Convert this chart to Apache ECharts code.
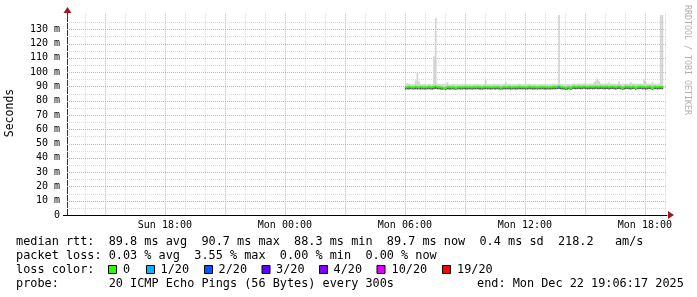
<!DOCTYPE html>
<html><head><meta charset="utf-8">
<script src="https://cdn.jsdelivr.net/npm/echarts@6/dist/echarts.min.js"></script>
<style>html,body{margin:0;padding:0;background:#fff}#c{width:697px;height:297px}</style>
</head><body><div id="c"></div>
<script>
// ---- time frame (hours since Sun Dec 21 2025 00:00) ----
const tStart = 13 + 6/60 + 17/3600;   // Sun 13:06:17
const tEnd = tStart + 30;             // Mon 19:06:17
const dayNames = ['Sun', 'Mon'];
const sampleStart = 30;               // Mon 06:00, first sample
const stepH = 5/60;                   // 300 s
const yMax = 141.2;

// ---- ticks / grid ----
const xLabelHours = [18, 24, 30, 36, 42];
const yLabels = [0,10,20,30,40,50,60,70,80,90,100,110,120,130];
const hGridMajor = [10,20,30,40,50,60,70,80,90,100,110,120,130];
const hGridMinor = [5,15,25,35,45,55,65,75,85,95,105,115,125,135];
const vGridMajor = [15,18,21,24,27,30,33,36,39,42];
const vGridMinor = [14,16,17,19,20,22,23,25,26,28,29,31,32,34,35,37,38,40,41,43];

// ---- data (ms) ----
const median = [
 89.6,89.5,89.7,89.6,89.4,89.5,89.8,89.6,89.5,89.7,
 89.6,89.4,89.5,89.6,89.7,89.5,89.6,89.8,90.1,89.7,
 89.6,89.5,89.3,88.8,88.9,89.7,89.6,89.4,89.5,89.6,
 88.7,89.5,89.6,89.4,89.5,89.6,89.7,89.5,89.6,89.5,
 89.4,89.6,89.5,89.7,89.6,89.5,89.3,89.6,89.7,89.5,
 89.6,89.5,89.4,89.6,89.5,89.7,89.6,88.9,89.4,89.6,
 89.5,89.6,89.7,89.5,89.4,89.6,89.5,89.6,89.8,89.6,
 89.5,89.6,89.4,89.5,89.7,89.6,89.5,89.6,89.5,89.4,
 89.6,89.5,89.7,89.6,89.5,89.6,89.4,89.5,89.6,89.7,
 89.6,89.8,89.9,89.7,89.6,89.5,89.0,89.4,89.6,88.6,
 89.8,89.9,89.7,89.8,89.9,89.7,89.8,90.0,89.8,89.7,
 89.8,89.9,89.7,89.8,90.0,89.8,89.7,89.9,89.8,89.7,
 89.8,89.9,89.6,89.8,89.9,89.7,89.5,89.8,89.9,89.7,
 88.8,89.6,89.9,89.8,89.7,89.5,89.8,89.9,88.7,89.8,
 89.7,89.9,89.6,89.8,89.5,89.7,89.9,89.8,88.6,89.7,
 89.8,89.6,89.7,89.8,89.7];
const low = [
 87.9,88.0,87.8,88.1,87.9,87.8,88.0,87.9,88.1,87.8,
 88.0,87.9,87.8,88.0,88.1,87.9,87.8,88.0,88.2,87.9,
 88.0,87.8,87.7,87.9,87.6,88.0,87.9,87.8,88.0,87.9,
 87.6,87.9,88.0,87.8,87.9,88.1,87.9,87.8,88.0,87.9,
 87.8,88.0,87.9,88.1,87.9,87.8,87.7,88.0,88.1,87.9,
 88.0,87.8,87.9,88.0,87.8,88.1,87.9,87.7,87.8,88.0,
 87.9,88.0,88.1,87.8,87.9,88.0,87.8,87.9,88.1,88.0,
 87.9,88.0,87.8,87.9,88.1,88.0,87.8,87.9,88.0,87.8,
 88.0,87.9,88.1,87.9,87.8,88.0,87.8,87.9,88.0,88.1,
 88.0,88.1,88.2,88.0,87.9,87.8,87.6,87.8,88.0,87.5,
 88.1,88.2,88.0,88.1,88.2,88.0,88.1,88.3,88.1,88.0,
 88.1,88.2,88.0,88.1,88.3,88.1,88.0,88.2,88.1,88.0,
 88.1,88.2,87.9,88.1,88.2,88.0,87.8,88.1,88.2,88.0,
 87.7,87.9,88.2,88.1,88.0,87.8,88.1,88.2,87.6,88.1,
 88.0,88.2,87.9,88.1,87.8,88.0,88.2,88.1,87.6,88.0,
 88.1,87.9,88.0,88.1,88.0];
const high = [
 91.6,92.4,91.8,91.5,91.7,91.6,94.0,100.0,93.5,91.8,
 91.5,91.7,91.6,91.4,91.8,91.6,91.7,111.0,138.0,92.0,
 91.7,91.5,91.6,91.8,91.4,93.0,91.6,91.5,91.7,91.6,
 91.5,91.7,91.6,91.4,91.8,91.5,91.6,91.7,91.5,91.6,
 91.4,91.7,91.6,91.8,91.5,91.6,91.4,91.7,95.0,91.6,
 91.7,91.5,91.6,91.8,91.5,91.7,91.6,91.5,91.4,91.7,
 93.0,91.6,91.8,91.5,91.6,91.7,91.5,91.6,91.8,91.7,
 91.5,91.6,91.4,91.7,91.8,91.6,91.5,91.7,91.6,91.5,
 91.7,91.6,91.8,91.5,91.6,91.7,91.5,91.6,91.7,91.8,
 91.7,91.9,140.0,91.8,91.7,91.6,91.4,91.6,91.7,91.5,
 91.9,92.0,91.8,91.9,92.1,91.8,91.9,92.1,91.9,91.8,
 91.9,92.0,91.8,93.0,94.0,95.6,94.0,92.0,91.9,91.8,
 91.9,92.0,93.0,91.9,92.0,91.8,91.7,91.9,93.5,91.8,
 91.9,91.7,92.0,91.9,91.8,93.0,91.9,92.0,91.7,91.9,
 91.8,92.0,91.7,94.8,93.0,91.8,92.0,91.9,93.0,91.8,
 91.9,91.7,92.0,140.0,140.0];
const loss = [
 0,0,0,0,0,0,0,0,0,0, 0,0,0,0,0,0,0,0,0,0, 0,0,0,0,0,0,0,0,0,0,
 0,0,0,0,0,0,0,0,0,0, 0,0,0,0,0,0,0,0,0,0, 0,0,0,0,0,0,0,0,0,0,
 0,0,0,0,0,0,0,0,0,0, 0,0,0,0,0,0,0,0,0,0, 0,0,0,0,0,0,0,0,0,0,
 0,0,1,0,0,0,0,0,0,0, 0,0,0,0,0,0,0,0,0,0, 0,0,0,0,0,0,0,0,0,0,
 0,0,0,0,0,0,0,0,0,0, 0,0,0,0,0,0,0,0,0,0, 0,0,0,0,0];
const lossKeys = [0, 1, 2, 3, 4, 10, 19];
const lossColorList = ['#26ff00', '#00b8ff', '#0059ff', '#5e00ff', '#7e00ff', '#dd00ff', '#ff0000'];

// ---- legend texts ----
const legendRtt = 'median rtt:  89.8 ms avg  90.7 ms max  88.3 ms min  89.7 ms now  0.4 ms sd  218.2   am/s';
const legendLoss = 'packet loss: 0.03 % avg  3.55 % max  0.00 % min  0.00 % now';
const legendColorTitle = 'loss color:';
const legendProbe = 'probe:       20 ICMP Echo Pings (56 Bytes) every 300s';
const legendEnd = 'end: Mon Dec 22 19:06:17 2025';

function lossColor(l) {
  let c = lossColorList[0];
  lossKeys.forEach((k, i) => { if (l >= k) c = lossColorList[i]; });
  return c;
}

const smokeData = median.map((m, i) => {
  const x0 = sampleStart + i * stepH;
  return [x0, x0 + stepH, low[i], m, high[i]];
});
const medData = median.map((m, i) => {
  const x0 = sampleStart + i * stepH;
  return [x0, x0 + stepH, m, i > 0 ? median[i - 1] : m, loss[i]];
});

const MONO = '"DejaVu Sans Mono", monospace';
const chart = echarts.init(document.getElementById('c'), null, {renderer: 'canvas'});

function vGridSeries(list, color) {
  return {
    type: 'custom', z: 1, silent: true, data: list.map(h => [h]),
    encode: {x: 0},
    renderItem(params, api) {
      const cs = params.coordSys;
      const x = Math.round(api.coord([api.value(0), 0])[0]) + 0.5;
      return {type: 'line', shape: {x1: x, y1: cs.y, x2: x, y2: cs.y + cs.height},
        style: {stroke: color, lineWidth: 1, lineDash: [1, 1]}};
    }
  };
}
function hGridSeries(list, color) {
  return {
    type: 'custom', z: 1, silent: true, data: list.map(v => [tStart, v]),
    encode: {x: 0, y: 1},
    renderItem(params, api) {
      const cs = params.coordSys;
      const y = Math.round(api.coord([api.value(0), api.value(1)])[1]) + 0.5;
      return {type: 'line', shape: {x1: cs.x, y1: y, x2: cs.x + cs.width, y2: y},
        style: {stroke: color, lineWidth: 1, lineDash: [1, 1]}};
    }
  };
}

const graphics = [];
graphics.push({type: 'polygon', shape: {points: [[63.5, 13], [71.5, 13], [67.5, 7]]}, style: {fill: '#a01818'}, z: 100});
graphics.push({type: 'polygon', shape: {points: [[668, 211], [668, 219], [674, 215]]}, style: {fill: '#a01818'}, z: 100});
graphics.push({type: 'line', shape: {x1: 63, y1: 215.5, x2: 67, y2: 215.5}, style: {stroke: '#000', lineWidth: 1}, z: 100});
graphics.push({type: 'text', x: 10, y: 113, rotation: Math.PI / 2,
  style: {text: 'Seconds', font: '11.5px ' + MONO, fill: '#000', align: 'center', verticalAlign: 'middle'}});
graphics.push({type: 'text', x: 687, y: 60, rotation: -Math.PI / 2,
  style: {text: 'RRDTOOL / TOBI OETIKER', font: '8.3px ' + MONO, fill: '#b0b0b0', align: 'center', verticalAlign: 'middle'}});
const FONT = '11.85px ' + MONO;
graphics.push({type: 'text', x: 16, y: 241.5, style: {text: legendRtt, font: FONT, fill: '#000', verticalAlign: 'middle'}});
graphics.push({type: 'text', x: 16, y: 255.5, style: {text: legendLoss, font: FONT, fill: '#000', verticalAlign: 'middle'}});
graphics.push({type: 'text', x: 16, y: 269.5, style: {text: legendColorTitle, font: FONT, fill: '#000', verticalAlign: 'middle'}});
graphics.push({type: 'text', x: 16, y: 283.5, style: {text: legendProbe, font: FONT, fill: '#000', verticalAlign: 'middle'}});
graphics.push({type: 'text', x: 477, y: 283.5, style: {text: legendEnd, font: FONT, fill: '#000', verticalAlign: 'middle'}});
const boxX = [108.5, 146.5, 204.5, 262, 319.5, 377, 442.5];
const labX = [123, 160.5, 218.5, 276, 333.5, 391.5, 457];
lossKeys.forEach((k, i) => {
  graphics.push({type: 'rect', shape: {x: boxX[i], y: 265.5, width: 8, height: 8},
    style: {fill: lossColorList[i], stroke: '#000', lineWidth: 1}});
  graphics.push({type: 'text', x: labX[i], y: 269.5,
    style: {text: k === 0 ? '0' : k + '/20', font: FONT, fill: '#000', verticalAlign: 'middle'}});
});

chart.setOption({
  animation: false,
  backgroundColor: '#fff',
  grid: {left: 67, top: 215 - yMax * (200 / 140), width: 600, height: yMax * (200 / 140), containLabel: false},
  xAxis: {
    type: 'value', min: tStart, max: tEnd,
    axisLine: {show: true, lineStyle: {color: '#000', width: 1}},
    axisTick: {show: false},
    splitLine: {show: false},
    axisLabel: {
      customValues: xLabelHours, margin: 5,
      fontFamily: 'DejaVu Sans Mono', fontSize: 10, color: '#000',
      formatter: h => dayNames[Math.floor(h / 24)] + ' ' + String(h % 24).padStart(2, '0') + ':00'
    }
  },
  yAxis: {
    type: 'value', min: 0, max: yMax,
    axisLine: {show: true, lineStyle: {color: '#333', width: 1}},
    axisTick: {show: false},
    splitLine: {show: false},
    axisLabel: {
      customValues: yLabels, margin: 7,
      fontFamily: 'DejaVu Sans Mono', fontSize: 10, color: '#000',
      formatter: v => v === 0 ? '0' : v + ' m'
    }
  },
  graphic: graphics,
  series: [
    vGridSeries(vGridMinor, '#dadada'),
    hGridSeries(hGridMinor, '#dadada'),
    vGridSeries(vGridMajor, '#eba7a7'),
    hGridSeries(hGridMajor, '#eba7a7'),
    {
      type: 'custom', z: 3, silent: true, data: smokeData,
      encode: {x: [0, 1], y: [2, 3, 4]},
      renderItem(params, api) {
        const x0 = api.value(0), x1 = api.value(1);
        const pHi = api.coord([x0, api.value(4)]);
        const pMd = api.coord([x1, api.value(3)]);
        const pLo = api.coord([x1, api.value(2)]);
        return {type: 'group', children: [
          {type: 'rect', shape: {x: pHi[0], y: pHi[1], width: pMd[0] - pHi[0], height: pMd[1] - pHi[1]},
            style: {fill: '#d2d2d2'}},
          {type: 'rect', shape: {x: pHi[0], y: pMd[1], width: pMd[0] - pHi[0], height: pLo[1] - pMd[1]},
            style: {fill: '#555555'}}
        ]};
      }
    },
    {
      type: 'custom', z: 4, silent: true, data: medData,
      encode: {x: [0, 1], y: 2},
      renderItem(params, api) {
        const x0 = api.value(0), x1 = api.value(1);
        const a = api.coord([x0, api.value(2)]);
        const b = api.coord([x1, api.value(2)]);
        const p = api.coord([x0, api.value(3)]);
        const col = lossColor(api.value(4));
        return {type: 'group', children: [
          {type: 'line', shape: {x1: p[0], y1: p[1], x2: a[0], y2: a[1]}, style: {stroke: col, lineWidth: 2}},
          {type: 'line', shape: {x1: a[0], y1: a[1], x2: b[0], y2: b[1]}, style: {stroke: col, lineWidth: 2}}
        ]};
      }
    }
  ]
});
</script>
</body></html>
